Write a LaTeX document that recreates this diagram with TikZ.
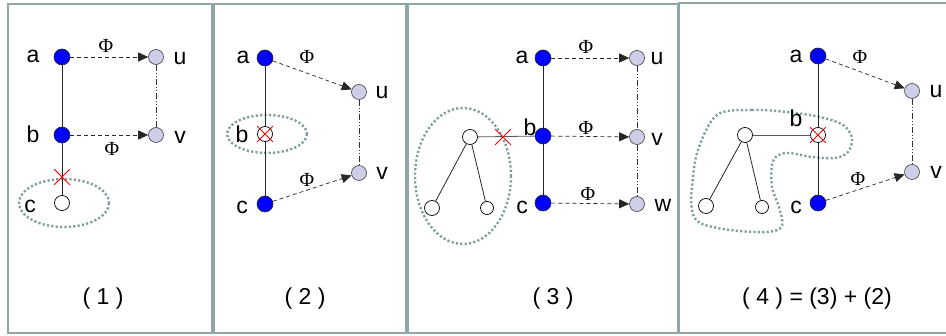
\documentclass[tikz,border=0pt]{standalone}
\usepackage{fontspec}
\setmainfont{Liberation Sans}
\newfontfamily\phifont{Liberation Serif}
\usetikzlibrary{arrows.meta,shapes.misc}
\definecolor{framecol}{RGB}{143,166,166}
\definecolor{lav}{RGB}{206,206,232}
\definecolor{hullcol}{RGB}{128,160,160}
\begin{document}
\begin{tikzpicture}[x=1pt,y=-1pt,
  full/.style={circle,draw=black!85,fill=blue,minimum size=16pt,inner sep=0pt,line width=0.6pt},
  img/.style={circle,draw=black!75,fill=lav,minimum size=15pt,inner sep=0pt,line width=0.6pt},
  free/.style={circle,draw=black,fill=white,minimum size=15pt,inner sep=0pt,line width=0.7pt},
  lbl/.style={font=\fontsize{23}{26}\selectfont,inner sep=0pt},
  panelcaption/.style={font=\fontsize{23}{26}\selectfont,inner sep=0pt},
  philbl/.style={font=\phifont\fontsize{20}{22}\selectfont,inner sep=0pt},
  edge/.style={draw=black!85,line width=0.8pt},
  mapto/.style={draw=black!85,line width=0.7pt,dash pattern=on 4pt off 3pt,-{Triangle[length=10pt,width=9pt]}},
  chain/.style={draw=black!80,line width=0.7pt,dash pattern=on 6pt off 2pt on 1pt off 2pt on 1pt off 2pt},
  cut/.style={cross out,draw=red,line width=0.8pt,minimum size=15pt,inner sep=0pt},
  hull/.style={draw=hullcol,line width=2.4pt,dash pattern=on 2.2pt off 2.2pt},
  panel/.style={draw=framecol,line width=2pt}
]
\useasboundingbox (0,0) rectangle (946,336);
\fill[white] (0,0) rectangle (946,336);

% frames
\draw[panel] (8,4) rectangle (212,333);
\draw[panel] (214,4) rectangle (406,333);
\draw[panel] (408,4) rectangle (678,333);
\draw[panel] (946,3) -- (679,3) -- (679,333) -- (946,333);

% ---------- (1) ----------
\draw[hull] (64,203) ellipse [x radius=45,y radius=24];
\node[full] (a1) at (62,57) {};
\node[full] (b1) at (62,135) {};
\node[free] (c1) at (62,203) {};
\node[img] (u1) at (156,57) {};
\node[img] (v1) at (156,135) {};
\draw[edge] (a1) -- (b1);
\draw[edge] (b1) -- (c1);
\node[cut] (x1) at (62,177) {};
\draw[mapto] (a1) -- (u1);
\draw[mapto] (b1) -- (v1);
\draw[chain] (u1) -- (v1);
\node[lbl] (la1) at (33,56) {a};
\node[lbl] (lb1) at (33,134) {b};
\node[lbl] (lc1) at (30,206) {c};
\node[lbl] (lu1) at (180,59) {u};
\node[lbl] (lv1) at (180,137) {v};
\node[philbl] (p11) at (106,46) {Φ};
\node[philbl] (p12) at (112,149) {Φ};
\node[panelcaption] (t1) at (103,299) {( 1 )};

% ---------- (2) ----------
\draw[hull] (267,134) ellipse [x radius=40,y radius=19];
\node[full] (a2) at (265,58) {};
\node[free] (b2) at (265,134) {};
\node[full] (c2) at (265,204) {};
\node[img] (u2) at (359,92) {};
\node[img] (v2) at (359,173) {};
\draw[edge] (a2) -- (b2);
\draw[edge] (b2) -- (c2);
\node[cut] (x2) at (b2) {};
\draw[mapto] (a2) -- (u2);
\draw[mapto] (c2) -- (v2);
\draw[chain] (u2) -- (v2);
\node[lbl] (la2) at (243,57) {a};
\node[lbl] (lb2) at (242,134) {b};
\node[lbl] (lc2) at (242,207) {c};
\node[lbl] (lu2) at (382,93) {u};
\node[lbl] (lv2) at (382,173) {v};
\node[philbl] (p21) at (307,57) {Φ};
\node[philbl] (p22) at (307,180) {Φ};
\node[panelcaption] (t2) at (305,299) {( 2 )};

% ---------- (3) ----------
\draw[hull] (463,176) ellipse [x radius=48,y radius=68];
\node[full] (a3) at (543,58) {};
\node[full] (b3) at (543,136) {};
\node[full] (c3) at (543,203) {};
\node[img] (u3) at (637,58) {};
\node[img] (v3) at (637,137) {};
\node[img] (w3) at (637,204) {};
\node[free] (r3) at (470,137) {};
\node[free] (l3) at (432,208) {};
\node[free,minimum size=13pt] (m3) at (487,208) {};
\draw[edge] (a3) -- (b3);
\draw[edge] (b3) -- (c3);
\draw[edge,draw=black!65] (r3) -- (b3);
\draw[edge] (r3) -- (l3);
\draw[edge] (r3) -- (m3);
\node[cut] (x3) at (503,137) {};
\draw[mapto] (a3) -- (u3);
\draw[mapto] (b3) -- (v3);
\draw[mapto] (c3) -- (w3);
\draw[chain] (u3) -- (v3);
\draw[chain] (v3) -- (w3);
\node[lbl] (la3) at (522,57) {a};
\node[lbl] (lb3) at (530,127) {b};
\node[lbl] (lc3) at (522,207) {c};
\node[lbl] (lu3) at (657,59) {u};
\node[lbl] (lv3) at (657,139) {v};
\node[lbl] (lw3) at (663,205) {w};
\node[philbl] (p31) at (586,47) {Φ};
\node[philbl] (p32) at (586,128) {Φ};
\node[philbl] (p33) at (588,194) {Φ};
\node[panelcaption] (t3) at (553,299) {( 3 )};

% ---------- (4) ----------
\draw[hull] plot[smooth cycle,tension=0.55] coordinates {
  (717,115) (752,110) (787,112) (820,117) (843,125) (852,138) (848,152)
  (835,158) (812,157) (786,153) (773,161) (772,187) (779,207) (782,226)
  (767,232) (730,230) (700,223) (692,210) (692,187) (698,150)};
\node[full] (a4) at (818,56) {};
\node[free] (b4) at (818,135) {};
\node[full] (c4) at (818,203) {};
\node[img] (u4) at (912,91) {};
\node[img] (v4) at (912,172) {};
\node[free] (r4) at (745,135) {};
\node[free] (l4) at (706,206) {};
\node[free,minimum size=13pt] (m4) at (762,207) {};
\draw[edge] (a4) -- (b4);
\draw[edge] (b4) -- (c4);
\draw[edge,draw=black!65] (r4) -- (b4);
\draw[edge] (r4) -- (l4);
\draw[edge] (r4) -- (m4);
\node[cut] (x4) at (b4) {};
\draw[mapto] (a4) -- (u4);
\draw[mapto] (c4) -- (v4);
\draw[chain] (u4) -- (v4);
\node[lbl] (la4) at (796,56) {a};
\node[lbl] (lb4) at (796,118) {b};
\node[lbl] (lc4) at (796,207) {c};
\node[lbl] (lu4) at (936,92) {u};
\node[lbl] (lv4) at (936,172) {v};
\node[philbl] (p41) at (860,57) {Φ};
\node[philbl] (p42) at (858,179) {Φ};
\node[panelcaption] (t4) at (817,299) {( 4 ) = (3) + (2)};
\end{tikzpicture}
\end{document}
